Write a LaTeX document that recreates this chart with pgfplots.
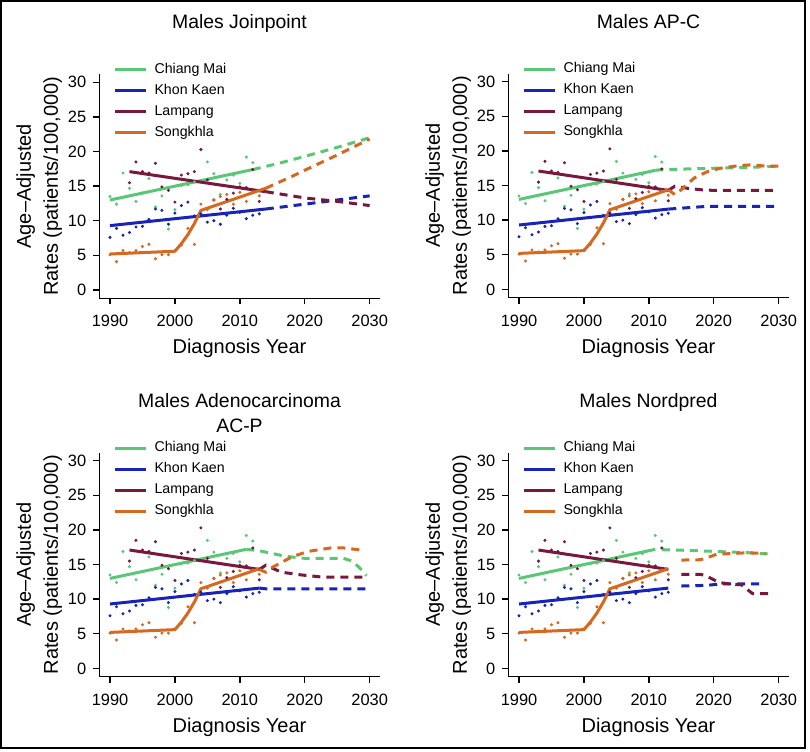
\documentclass[border=0pt]{standalone}
\usepackage{pgfplots}
\usepackage{pgfplotstable}
\pgfplotsset{compat=1.18}
\usepackage{fontspec}
\setmainfont{Liberation Sans}
\definecolor{cmcol}{RGB}{88,200,118}
\definecolor{kkcol}{RGB}{24,36,184}
\definecolor{lpcol}{RGB}{120,24,60}
\definecolor{skcol}{RGB}{214,104,32}

% observed rates
\pgfplotstableread{
x y
1990 13.5
1991 12.4
1992 16.9
1993 14.7
1994 12.8
1995 14.0
1996 16.1
1997 12.0
1998 13.6
1999 8.8
2000 11.6
2001 15.1
2002 15.2
2003 15.6
2005 18.5
2006 16.8
2007 13.8
2008 15.9
2009 16.6
2010 15.4
2011 19.2
2012 18.4
}\cmobs
\pgfplotstableread{
x y
1990 7.6
1991 8.9
1992 7.9
1993 8.3
1994 9.1
1995 9.2
1996 10.2
1997 11.7
1998 11.5
1999 9.5
2000 11.1
2001 12.2
2002 12.7
2003 10.7
2004 11.0
2005 9.8
2006 10.0
2007 9.5
2008 10.8
2009 11.8
2010 11.2
2011 10.3
2012 10.8
2013 11.0
}\kkobs
\pgfplotstableread{
x y
1993 15.5
1994 18.5
1995 17.1
1996 16.9
1997 18.3
1998 14.9
1999 14.4
2000 12.7
2001 16.6
2002 16.8
2003 17.1
2004 20.3
2005 15.9
2006 13.0
2007 11.7
2008 13.1
2009 14.0
2010 14.9
2011 14.8
2012 17.4
2013 12.8
}\lpobs
\pgfplotstableread{
x y
1990 5.1
1991 4.1
1992 5.7
1993 5.4
1994 5.7
1995 6.3
1996 6.6
1997 4.5
1998 5.1
1999 5.1
2000 5.7
2001 6.5
2002 8.9
2003 6.6
2004 12.4
2005 11.6
2006 13.0
2007 13.5
2008 13.8
2009 12.4
2010 14.1
2011 12.8
2012 14.2
2013 13.6
}\skobs

% fitted trends (observed period)
\pgfplotstableread{
x y
1990 13.0
2011 17.2
}\cmfit
\pgfplotstableread{
x y
1990 9.3
2013 11.6
}\kkfit
\pgfplotstableread{
x y
1993 17.1
2013 14.3
}\lpfit
\pgfplotstableread{
x y
1990 5.2
2000 5.6
2001 6.7
2002 8.0
2003 9.6
2004 11.5
2013 14.4
}\skfit

\pgfplotsset{
  panel/.style={
    scale only axis, width=140.2pt, height=112pt,
    xmin=1988.35, xmax=2031.55, ymin=-1.2, ymax=31.16,
    clip=false,
    axis lines=left, axis line style={-, line width=0.7pt, black},
    xtick={1990,2000,2010,2020,2030}, ytick={0,5,10,15,20,25,30},
    tick align=outside, major tick length=3pt,
    tick style={line width=0.7pt, black},
    /pgf/number format/1000 sep={}, /pgf/number format/assume math mode=true,
    ticklabel style={font=\fontsize{8.2}{9.5}\selectfont},
    xticklabel style={yshift=-2pt},
    title style={at={(0.5,1)}, anchor=base, yshift=16.7pt, inner sep=0pt,
      font=\fontsize{9.7}{11}\selectfont},
    xlabel={Diagnosis Year},
    xlabel style={at={(0.5,0)}, anchor=base, yshift=-27.8pt, inner sep=0pt,
      font=\fontsize{10}{12}\selectfont},
    ylabel={Age–Adjusted\\Rates (patients/100,000)},
    ylabel style={at={([xshift=-18.4pt]axis description cs:0,0.5)},
      anchor=south, inner sep=0pt, align=center,
      font=\fontsize{10}{13.5}\selectfont},
    legend style={at={(0.0478,1.0522)}, anchor=north west, draw=none, fill=none,
      inner sep=0pt, row sep=3.95pt, column sep=3.5pt,
      font=\fontsize{7.1}{8.5}\selectfont, nodes={inner sep=0pt}},
    legend cell align=left,
    legend image code/.code={\draw[#1] (0pt,0pt) -- (15.7pt,0pt);},
  },
  obs/.style={only marks, mark=*, mark size=0.55pt, forget plot},
  fit/.style={line width=1.5pt, forget plot},
  proj/.style={line width=1.5pt, dash pattern=on 4pt off 3pt, forget plot},
}

\newcommand{\legendentries}{%
  \addlegendimage{cmcol, line width=1.5pt}\addlegendentry{Chiang Mai\vphantom{g}}
  \addlegendimage{kkcol, line width=1.5pt}\addlegendentry{Khon Kaen\vphantom{g}}
  \addlegendimage{lpcol, line width=1.5pt}\addlegendentry{Lampang\vphantom{g}}
  \addlegendimage{skcol, line width=1.5pt}\addlegendentry{Songkhla\vphantom{g}}
}
\newcommand{\observed}{%
  \addplot[obs, cmcol] table {\cmobs};
  \addplot[obs, kkcol] table {\kkobs};
  \addplot[obs, lpcol] table {\lpobs};
  \addplot[obs, skcol] table {\skobs};
}
\newcommand{\fits}{%
  \addplot[fit, cmcol] table {\cmfit};
  \addplot[fit, kkcol] table {\kkfit};
  \addplot[fit, lpcol] table {\lpfit};
  \addplot[fit, skcol] table {\skfit};
}

\begin{document}
\begin{tikzpicture}
\useasboundingbox (0pt,0pt) rectangle (405pt,375.5pt);
\draw[line width=0.75pt] (0.6pt,1.5pt) rectangle (402.5pt,375pt);

% ---------------- Joinpoint
\begin{axis}[panel, at={(49.65pt,226.35pt)}, anchor=south west, title={Males Joinpoint}]
\legendentries
\observed
\addplot[fit, cmcol] coordinates {(1990,13.0) (2012,17.4)};
\addplot[fit, kkcol] coordinates {(1990,9.3) (2014,11.7)};
\addplot[fit, lpcol] coordinates {(1993,17.1) (2014,14.2)};
\addplot[fit, skcol] coordinates {(1990,5.2) (2000,5.6) (2001,6.7) (2002,8.0) (2003,9.6) (2004,11.5) (2014,14.7)};
\addplot[proj, cmcol] coordinates {(2012,17.4) (2016,18.3) (2020,19.3) (2025,20.6) (2030,22.0)};
\addplot[proj, kkcol] coordinates {(2014,11.7) (2020,12.4) (2025,13.0) (2030,13.6)};
\addplot[proj, lpcol] coordinates {(2014,14.2) (2018,13.6) (2020,13.3) (2025,12.8) (2030,12.2)};
\addplot[proj, skcol] coordinates {(2014,14.7) (2018,16.4) (2020,17.3) (2025,19.5) (2030,21.8)};
\end{axis}

% ---------------- AP-C
\begin{axis}[panel, at={(254.15pt,226.65pt)}, anchor=south west, title={Males AP-C}]
\legendentries
\observed
\fits
\addplot[proj, cmcol] coordinates {(2011,17.2) (2012,17.3) (2020,17.5) (2025,17.6) (2030,17.8)};
\addplot[proj, kkcol] coordinates {(2013,11.6) (2016,11.8) (2019,12.0) (2030,12.0)};
\addplot[proj, lpcol] coordinates {(2013,14.3) (2014,14.9) (2016,14.6) (2018,14.4) (2020,14.3) (2030,14.3)};
\addplot[proj, skcol] coordinates {(2013,14.4) (2014,13.7) (2015,14.4) (2017,16.1) (2019,17.0) (2021,17.5) (2024,17.9) (2026,18.0) (2028,17.8) (2030,17.8)};
\end{axis}

% ---------------- Adenocarcinoma AC-P
\begin{axis}[panel, at={(49.65pt,37.15pt)}, anchor=south west, title={Males Adenocarcinoma}]
\legendentries
\observed
\fits
\addplot[proj, cmcol] coordinates {(2011,17.2) (2013,17.0) (2017,16.2) (2020,15.9) (2026,15.9) (2027.3,15.5) (2028.5,14.5) (2029.5,13.4)};
\addplot[proj, kkcol] coordinates {(2013,11.6) (2014,11.5) (2030,11.5)};
\addplot[proj, lpcol] coordinates {(2013,14.3) (2014,14.9) (2016.4,13.9) (2019.5,13.5) (2022.6,13.2) (2029.5,13.2)};
\addplot[proj, skcol] coordinates {(2013,14.3) (2014,13.9) (2015,14.6) (2018,16.1) (2020.5,16.9) (2024,17.4) (2026,17.4) (2028.7,17.1)};
\node[anchor=base, inner sep=0pt, font=\fontsize{9.7}{11}\selectfont, yshift=10.2pt] at (rel axis cs:0.5,1) {AC-P};
\end{axis}

% ---------------- Nordpred
\begin{axis}[panel, at={(254.15pt,37.15pt)}, anchor=south west, title={Males Nordpred}]
\legendentries
\observed
\fits
\addplot[proj, cmcol] coordinates {(2012,17.15) (2016,17.05) (2021.5,16.85) (2025.6,16.7) (2028.7,16.5)};
\addplot[proj, kkcol] coordinates {(2015,11.9) (2019,12.0) (2021,12.2) (2027.7,12.2)};
\addplot[proj, lpcol] coordinates {(2015,13.6) (2018,13.6) (2019.2,13.2) (2020.8,12.4) (2023.4,12.1) (2024.2,12.1) (2026,10.8) (2029,10.8)};
\addplot[proj, skcol] coordinates {(2015,15.65) (2018,15.7) (2019,16.0) (2020.5,16.5) (2023,16.6) (2025,16.7) (2028,16.6)};
\end{axis}
\end{tikzpicture}
\end{document}
